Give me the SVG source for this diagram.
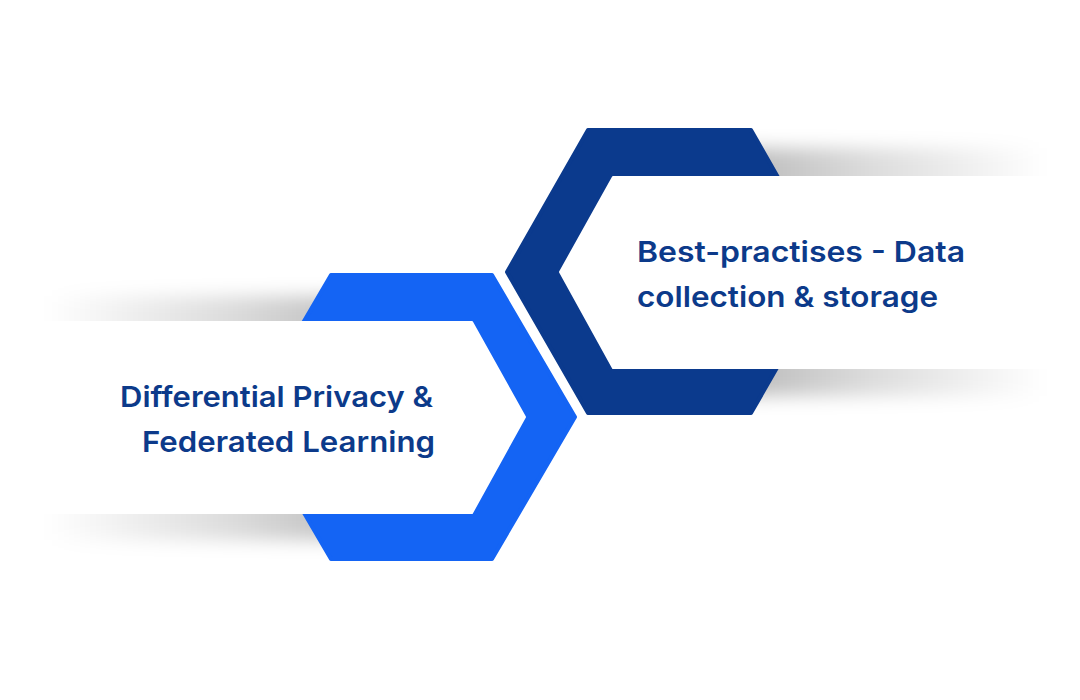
<svg xmlns="http://www.w3.org/2000/svg" width="1080" height="700" viewBox="0 0 1080 700">
  <defs>
    <linearGradient id="shL" x1="0" y1="0" x2="1" y2="0">
      <stop offset="0" stop-color="#000" stop-opacity="0"/>
      <stop offset="0.5" stop-color="#000" stop-opacity="0.14"/>
      <stop offset="1" stop-color="#000" stop-opacity="0.32"/>
    </linearGradient>
    <linearGradient id="shR" x1="0" y1="0" x2="1" y2="0">
      <stop offset="0" stop-color="#000" stop-opacity="0.32"/>
      <stop offset="0.5" stop-color="#000" stop-opacity="0.14"/>
      <stop offset="1" stop-color="#000" stop-opacity="0"/>
    </linearGradient>
    <filter id="blur" x="-20%" y="-30%" width="140%" height="160%">
      <feGaussianBlur stdDeviation="9"/>
    </filter>
    <style>
      .hexA { fill: #1464F4; stroke: #1464F4; stroke-width: 4; stroke-linejoin: round; }
      .hexB { fill: #0B3A8D; stroke: #0B3A8D; stroke-width: 4; stroke-linejoin: round; }
      .box { fill: #FFFFFF; stroke: #FFFFFF; stroke-width: 2; stroke-linejoin: round; }
      .lbl { font-family: Inter, "Open Sans", "Liberation Sans", sans-serif; font-weight: 600; font-size: 29px; fill: #0C3A8A; }
    </style>
  </defs>
  <rect width="1080" height="700" fill="#FFFFFF"/>

  <g id="node-differential-privacy">
    <rect x="45" y="296" width="380" height="244" fill="url(#shL)" filter="url(#blur)"/>
    <polygon class="hexA" points="331,275 492,275 575,417 492,559 331,559 248,417"/>
    <polygon class="box" points="45,322 472,322 525,417 472,513 45,513"/>
    <text class="lbl" x="120" y="407" textLength="313" lengthAdjust="spacingAndGlyphs">Differential Privacy &amp;</text>
    <text class="lbl" x="142" y="452" textLength="293" lengthAdjust="spacingAndGlyphs">Federated Learning</text>
  </g>

  <g id="node-best-practises">
    <rect x="690" y="148" width="355" height="248" fill="url(#shR)" filter="url(#blur)"/>
    <polygon class="hexB" points="588,130 751,130 832,272 751,413 588,413 507,272"/>
    <polygon class="box" points="613,177 1050,177 1050,368 613,368 560,272"/>
    <text class="lbl" x="637" y="262" textLength="328" lengthAdjust="spacingAndGlyphs">Best-practises - Data</text>
    <text class="lbl" x="637" y="307" textLength="301" lengthAdjust="spacingAndGlyphs">collection &amp; storage</text>
  </g>

  <g id="connectors"></g>
</svg>
